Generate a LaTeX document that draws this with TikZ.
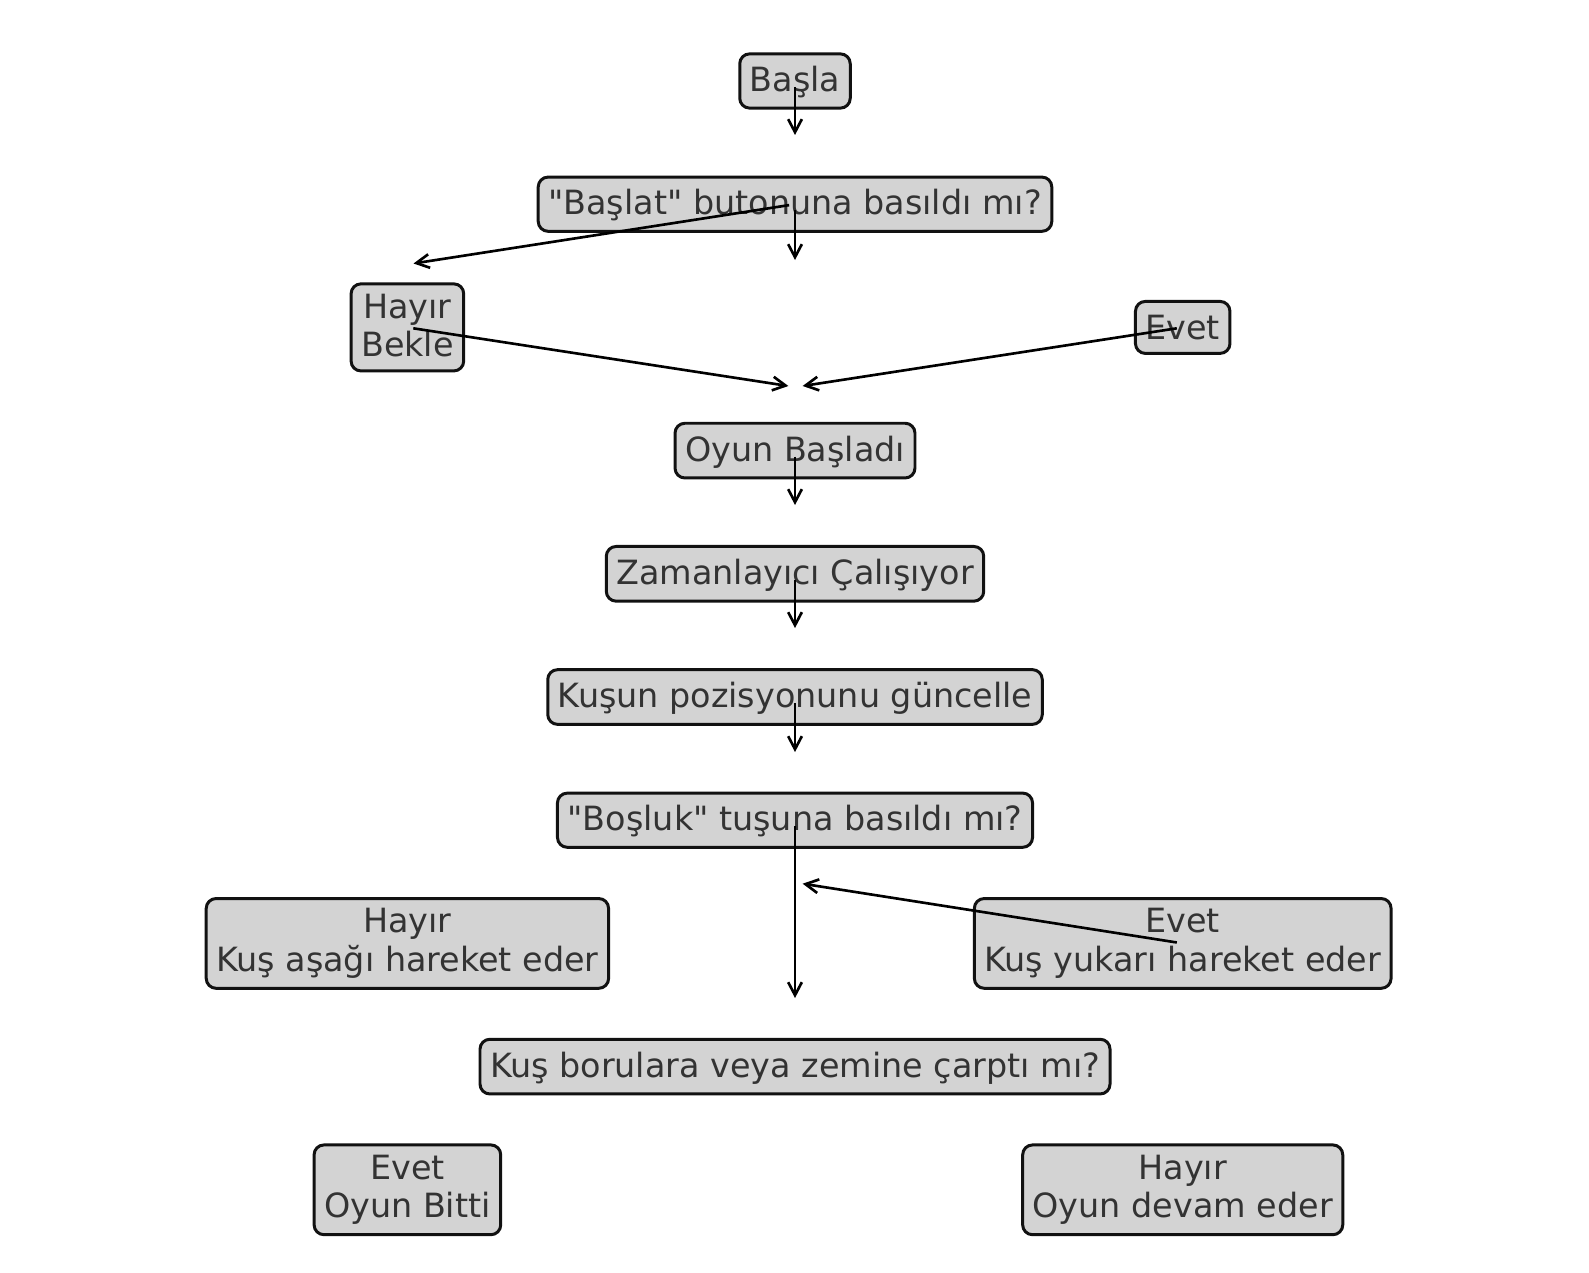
\documentclass[tikz,border=0pt]{standalone}
\usepackage{fontspec}
\setmainfont{DejaVu Sans}[Ligatures=TeXOff]
\usepackage{tikz}
\usetikzlibrary{arrows.meta,positioning}
\definecolor{Ink}{HTML}{333333}
\definecolor{Edge}{HTML}{111111}
\definecolor{BoxGray}{HTML}{D3D3D3}
\newcommand{\boxstrut}{\rule[-1.2pt]{0pt}{9.1pt}}
\tikzset{
  flowbox/.style={draw=Edge,line width=0.85pt,fill=BoxGray,rounded corners=2.8pt,align=center,text=Ink,inner xsep=0.1cm,inner ysep=0.1cm,execute at begin node=\boxstrut,execute at end node=\boxstrut},
  arrow/.style={-{Straight Barb[length=3.7pt,width=3.9pt]},line width=0.75pt,draw=black,shorten <=1.7pt}
}
\begin{document}
\begin{tikzpicture}[x=1cm,y=1cm,font=\fontsize{9.5}{10.95}\selectfont]
  \useasboundingbox (0,0) rectangle (15.89,12.72);
  \node[flowbox] (basla) at (7.95,11.91) {Başla};
  \node[flowbox] (baslat) at (7.95,10.678) {"Başlat" butonuna basıldı mı?};
  \node[flowbox] (bekle) at (4.074,9.446) {Hayır\\Bekle};
  \node[flowbox] (evetA) at (11.827,9.446) {Evet};
  \node[flowbox] (oyun) at (7.95,8.214) {Oyun Başladı};
  \node[flowbox] (zaman) at (7.95,6.982) {Zamanlayıcı Çalışıyor};
  \node[flowbox] (kusun) at (7.95,5.75) {Kuşun pozisyonunu güncelle};
  \node[flowbox] (bosluk) at (7.95,4.518) {"Boşluk" tuşuna basıldı mı?};
  \node[flowbox] (asagi) at (4.074,3.286) {Hayır\\Kuş aşağı hareket eder};
  \node[flowbox] (yukari) at (11.827,3.286) {Evet\\Kuş yukarı hareket eder};
  \node[flowbox] (carpti) at (7.95,2.054) {Kuş borulara veya zemine çarptı mı?};
  \node[flowbox] (bitti) at (4.074,0.822) {Evet\\Oyun Bitti};
  \node[flowbox] (devam) at (11.827,0.822) {Hayır\\Oyun devam eder};
  % arrow tips end in free space
  \coordinate (toBaslat) at (7.95,11.37);
  \coordinate (toSplit) at (7.95,10.12);
  \coordinate (toBekle) at (4.135,10.085);
  \coordinate (joinL) at (7.884,8.86);
  \coordinate (joinR) at (8.026,8.86);
  \coordinate (toZaman) at (7.95,7.67);
  \coordinate (toKusun) at (7.95,6.44);
  \coordinate (toBosluk) at (7.95,5.20);
  \coordinate (toCarpti) at (7.95,2.74);
  \coordinate (toUp) at (8.026,3.883);
  \draw[arrow] (basla.center)--(toBaslat); \draw[arrow] (baslat.center)--(toSplit); \draw[arrow] (baslat.center)--(toBekle);
  \draw[arrow] (bekle.center)--(joinL); \draw[arrow] (evetA.center)--(joinR);
  \draw[arrow] (oyun.center)--(toZaman); \draw[arrow] (zaman.center)--(toKusun); \draw[arrow] (kusun.center)--(toBosluk);
  \draw[arrow] (bosluk.center)--(toCarpti); \draw[arrow] (yukari.center)--(toUp);
\end{tikzpicture}
\end{document}
